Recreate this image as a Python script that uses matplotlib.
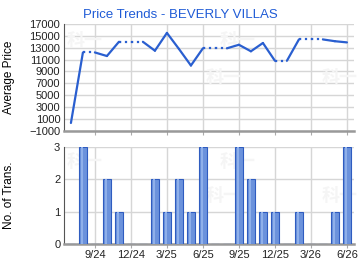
import numpy as np
import matplotlib.pyplot as plt

# meses de 7/24 a 6/26
meses = ['7/24', '8/24', '9/24', '10/24', '11/24', '12/24', '1/25', '2/25',
         '3/25', '4/25', '5/25', '6/25', '7/25', '8/25', '9/25', '10/25',
         '11/25', '12/25', '1/26', '2/26', '3/26', '4/26', '5/26', '6/26']
precios = [300, 12200, 12200, 11600, 14000, 14000, 14000, 12500,
           15500, 12800, 10000, 12900, 12900, 12900, 13500, 12400,
           13800, 10800, 10800, 14400, 14400, 14400, 14100, 13900]
# True = dato real, False = valor arrastrado (linea punteada)
reales = [True, True, False, True, True, False, False, True,
          True, True, True, True, False, False, True, True,
          True, True, False, True, False, False, True, True]
transacciones = [0, 3, 0, 2, 1, 0, 0, 2, 1, 2, 1, 3,
                 0, 0, 3, 2, 1, 1, 0, 1, 0, 0, 1, 3]
etiquetas_x = ['9/24', '12/24', '3/25', '6/25', '9/25', '12/25', '3/26', '6/26']

plt.rcParams['font.family'] = ['Liberation Sans', 'Noto Sans CJK SC', 'DejaVu Sans']

azul = '#2a5fd0'
gris_grid = '#d6d6d6'
idx = np.arange(len(meses))
pos_ticks = [meses.index(m) for m in etiquetas_x]
xlim = (-0.54, 23.58)

fig = plt.figure(figsize=(3.6, 2.7), dpi=100)
ax1 = fig.add_axes([0.179, 0.516, 0.804, 0.395])
ax2 = fig.add_axes([0.179, 0.096, 0.804, 0.36])

fig.text(0.5, 0.944, 'Price Trends - BEVERLY VILLAS', ha='center', va='center',
         color='#1f5bd6', fontsize=9.5)

# precio promedio
for i in range(len(meses) - 1):
    estilo = '-' if reales[i + 1] else ':'
    ax1.plot(idx[i:i + 2], precios[i:i + 2], color=azul, lw=1.6,
             linestyle=estilo, solid_capstyle='round', zorder=3)
ax1.set_ylim(-1000, 17000)
ax1.set_yticks(np.arange(-1000, 17001, 2000))
ax1.set_xlim(*xlim)
ax1.set_xticks(pos_ticks)
ax1.set_xticklabels([])
ax1.set_ylabel('Average Price', fontsize=8.5)

# transacciones
ax2.bar(idx, transacciones, width=0.67, color='#6b92dc', edgecolor='#2f5cc0',
        linewidth=0.8, zorder=3)
ax2.bar(idx - 0.08, transacciones, width=0.2, color='#8fb0ea', linewidth=0, zorder=4)
ax2.set_ylim(0, 3)
ax2.set_yticks([0, 1, 2, 3])
ax2.set_xlim(*xlim)
ax2.set_xticks(pos_ticks)
ax2.set_xticklabels(etiquetas_x)
ax2.set_ylabel('No. of Trans.', fontsize=8.5)

for ax in (ax1, ax2):
    ax.yaxis.set_label_coords(-0.171, 0.5)
    ax.grid(True, color=gris_grid, lw=1.0, zorder=0)
    ax.set_axisbelow(True)
    for s in ('top', 'right'):
        ax.spines[s].set_visible(False)
    ax.spines['left'].set_color('#555555')
    ax.spines['left'].set_linewidth(0.8)
    ax.spines['bottom'].set_color('#999999')
    ax.spines['bottom'].set_linewidth(1.8)
    ax.tick_params(axis='y', length=0, labelsize=8, pad=3, colors='#222222')
    ax.tick_params(axis='x', length=3, color='#aaaaaa', labelsize=8, pad=1.5,
                   labelcolor='#222222')
    # marca de agua
    for xf, yf in ((0.07, 0.85), (0.55, 0.5), (0.6, 0.85), (0.95, 0.5)):
        ax.text(xf, yf, '科一', transform=ax.transAxes, fontsize=13,
                color='#f5f5f5', fontweight='bold', ha='center', va='center',
                zorder=1, family=['Noto Sans CJK SC', 'DejaVu Sans'])

fig.savefig('out.png', dpi=100)
